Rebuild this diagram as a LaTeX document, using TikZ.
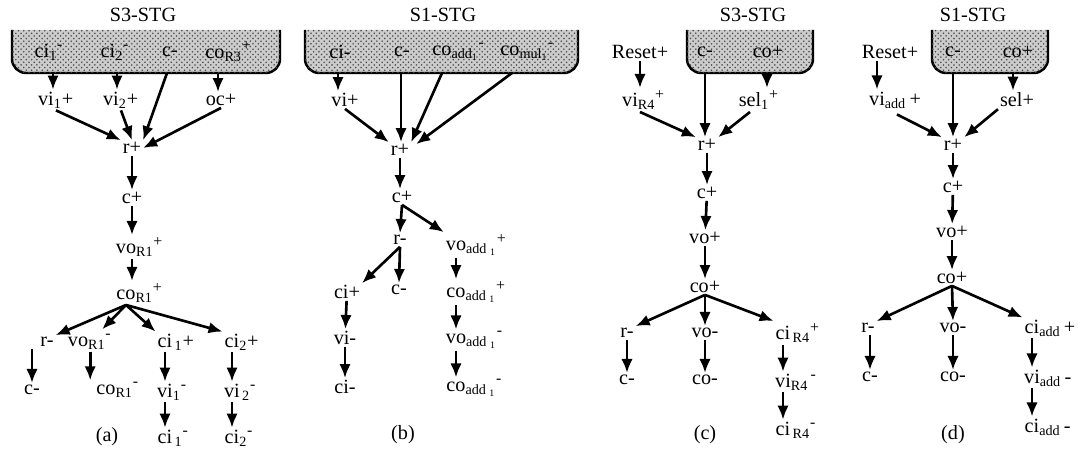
\documentclass[tikz,border=0pt]{standalone}
\usepackage{fontspec}
\setmainfont{Liberation Serif}
\usepackage{amsmath}
\usetikzlibrary{calc,arrows.meta,patterns}

% base text centred, indices hang to the right
\newcommand{\ev}[3]{#1\rlap{$_{\text{#2}}{}^{\mbox{\small #3}}$}}
\newcommand{\evb}[3]{#1\rlap{$_{\text{#2}}$#3}}

\tikzset{
  ev/.style={inner sep=1pt, font=\fontsize{11.5}{13}\selectfont},
  arr/.style={line width=1.5pt, -{Latex[length=8pt,width=6.5pt]}},
  stg/.style={line width=1.4pt, rounded corners=8pt, fill=gray!40,
    postaction={pattern=crosshatch dots, pattern color=gray!60!black}},
}

\begin{document}
\begin{tikzpicture}[x=0.02cm,y=-0.02cm]
    \useasboundingbox (0,0) rectangle (1089,455);

    % (a)
    \draw [stg] (12,30) -- (12,73) -- (280,73) -- (280,30);
    \node [ev] (aT) at (143,15) {S3-STG};
    \node [ev] (aci1) at (42,52) {\ev{ci}{1}{-}};
    \node [ev] (aci2) at (108,52) {\ev{ci}{2}{-}};
    \node [ev] (acm) at (170,52) {c-};
    \node [ev] (acoR) at (215,52) {\ev{co}{R3}{+}};
    \coordinate (aB1) at (53,73);
    \coordinate (aB2) at (117,73);
    \coordinate (aB3) at (167,73);
    \coordinate (aB4) at (218,73);

    \node [ev] (avi1) at (46,100) {\evb{vi}{1}{+}};
    \node [ev] (avi2) at (111,100) {\evb{vi}{2}{+}};
    \node [ev] (aoc) at (221,100) {oc+};
    \node [ev] (ar) at (132,148) {r+};
    \node [ev] (ac) at (132,198) {c+};
    \node [ev] (avo) at (126,247) {\ev{vo}{R1}{+}};
    \node [ev] (aco) at (126,293) {\ev{co}{R1}{+}};
    \node [ev] (arm) at (47,342) {r-};
    \node [ev] (avom) at (78,342) {\ev{vo}{R1}{-}};
    \node [ev] (aci1p) at (165,342) {\evb{ci}{\,1}{+}};
    \node [ev] (aci2p) at (232,342) {\evb{ci}{2}{+}};
    \node [ev] (acm2) at (32,390) {c-};
    \node [ev] (acom) at (106,390) {\ev{co}{R1}{-}};
    \node [ev] (avi1m) at (165,392) {\ev{vi}{1}{-}};
    \node [ev] (avi2m) at (232,392) {\ev{vi}{\,2}{-}};
    \node [ev] (acap) at (107,437) {(a)};
    \node [ev] (aci1m) at (165,438) {\ev{ci}{\,1}{-}};
    \node [ev] (aci2m) at (232,438) {\ev{ci}{2}{-}};

    \draw [arr] (aB1) -- (aB1 |- avi1.north);
    \draw [arr] (aB2) -- (aB2 |- avi2.north);
    \draw [arr] (aB3) -- (ar.north east);
    \draw [arr] (aB4) -- (aB4 |- aoc.north);
    \draw [arr] (avi1.south east) -- (ar.north west);
    \draw [arr] (avi2.south east) -- (ar.north);
    \draw [arr] (aoc.south) -- (ar.east);
    \draw [arr] (ar) -- (ac);
    \draw [arr] (ac.south) -- (ac.south |- avo.north);
    \draw [arr] (ac.south |- avo.south) -- (ac.south |- aco.north);
    \draw [arr] (aco.south) -- (arm.north east);
    \draw [arr] (aco.south) -- ($(avom.north east)+(12,-3)$);
    \draw [arr] (aco.south) -- (aci1p.north west);
    \draw [arr] (aco.south) -- (aci2p.north west);
    \draw [arr] (acm2 |- arm.south) -- (acm2.north);
    \draw [arr] (avom.south east) -- (avom.south east |- acom.north);
    \draw [arr] (aci1p) -- (avi1m);
    \draw [arr] (aci2p) -- (avi2m);
    \draw [arr] (avi1m) -- (aci1m);
    \draw [arr] (avi2m) -- (aci2m);

    % (b)
    \draw [stg] (305,30) -- (305,73) -- (578,73) -- (578,30);
    \node [ev] (bT) at (443,15) {S1-STG};
    \node [ev] (bci) at (340,52) {ci-};
    \node [ev] (bcm) at (402,52) {c-};
    \node [ev] (bcoa) at (442,52) {\ev{co}{add$_{\text{1}}$}{-}};
    \node [ev] (bcom) at (510,52) {\ev{co}{mul$_{\text{1}}$}{-}};
    \coordinate (bB1) at (338,73);
    \coordinate (bB2) at (401,73);
    \coordinate (bB3) at (442,73);
    \coordinate (bB4) at (512,73);

    \node [ev] (bvi) at (345,100) {vi+};
    \node [ev] (br) at (400,150) {r+};
    \node [ev] (bc) at (402,197) {c+};
    \node [ev] (brm) at (400,240) {r-};
    \node [ev] (bvo) at (456,245) {\ev{vo}{add $_{\text{1}}$}{+}};
    \node [ev] (bcip) at (347,292) {ci+};
    \node [ev] (bcm2) at (399,290) {c-};
    \node [ev] (bcop) at (456,292) {\ev{co}{add $_{\text{1}}$}{+}};
    \node [ev] (bvim) at (345,338) {vi-};
    \node [ev] (bvom) at (456,340) {\ev{vo}{add $_{\text{1}}$}{-}};
    \node [ev] (bcim) at (345,387) {ci-};
    \node [ev] (bcom2) at (456,388) {\ev{co}{add $_{\text{1}}$}{-}};
    \node [ev] (bcap) at (403,435) {(b)};

    \draw [arr] (bB1) -- (bB1 |- bvi.north);
    \draw [arr] (bB2) -- (bB2 |- br.north);
    \draw [arr] (bB3) -- (br.north east);
    \draw [arr] (bB4) -- ($(br.north east)+(5,2)$);
    \draw [arr] (bvi.south) -- (br.north west);
    \draw [arr] (br.south) -- (br.south |- bc.north);
    \draw [arr] (bc.south) -- (brm.north);
    \draw [arr] (bc.south) -- (bvo.north west);
    \draw [arr] (brm.south) -- (bcip.north east);
    \draw [arr] (brm.south) -- (bcm2.north);
    \draw [arr] (bvo) -- (bcop);
    \draw [arr] (bcip) -- (bvim);
    \draw [arr] (bcop) -- (bvom);
    \draw [arr] (bvim) -- (bcim);
    \draw [arr] (bvom) -- (bcom2);

    % (c)
    \draw [stg] (687,30) -- (687,73) -- (813,73) -- (813,30);
    \node [ev] (cT) at (753,15) {S3-STG};
    \node [ev] (cReset) at (640,52) {Reset+};
    \node [ev] (ccm) at (705,52) {c-};
    \node [ev] (ccop) at (768,52) {co+};
    \coordinate (cB1) at (705,73);
    \coordinate (cB2) at (767,73);

    \node [ev] (cvi) at (630,100) {\ev{vi}{R4}{+}};
    \node [ev] (csel) at (750,100) {\ev{sel}{1}{+}};
    \node [ev] (cr) at (707,145) {r+};
    \node [ev] (cc) at (707,193) {c+};
    \node [ev] (cvo) at (705,238) {vo+};
    \node [ev] (cco) at (705,287) {co+};
    \node [ev] (crm) at (627,333) {r-};
    \node [ev] (cvom) at (705,333) {vo-};
    \node [ev] (cci) at (783,333) {\ev{ci}{\,R4}{+}};
    \node [ev] (ccm2) at (627,380) {c-};
    \node [ev] (ccom) at (705,380) {co-};
    \node [ev] (cvim) at (783,382) {\ev{vi}{R4\,}{-}};
    \node [ev] (ccim) at (783,430) {\ev{ci}{\,R4}{-}};
    \node [ev] (ccap) at (705,435) {(c)};

    \draw [arr] (cReset.south) -- (cReset.south |- cvi.north);
    \draw [arr] (cB1) -- (cB1 |- cr.north);
    \draw [arr] (cB2) -- (cB2 |- csel.north);
    \draw [arr] (cvi.south east) -- (cr.north west);
    \draw [arr] (csel.south) -- (cr.north east);
    \draw [arr] (cr) -- (cc);
    \draw [arr] (cc) -- (cvo);
    \draw [arr] (cvo) -- (cco);
    \draw [arr] (cco.south) -- (crm.north east);
    \draw [arr] (cco.south) -- (cvom.north);
    \draw [arr] (cco.south) -- (cci.north west);
    \draw [arr] (crm) -- (ccm2);
    \draw [arr] (cvom) -- (ccom);
    \draw [arr] (cci) -- (cvim);
    \draw [arr] (cvim) -- (ccim);

    % (d)
    \draw [stg] (932,30) -- (932,73) -- (1048,73) -- (1048,30);
    \node [ev] (dT) at (973,15) {S1-STG};
    \node [ev] (dReset) at (890,52) {Reset+};
    \node [ev] (dcm) at (953,52) {c-};
    \node [ev] (dcop) at (1018,52) {co+};
    \coordinate (dB1) at (953,73);
    \coordinate (dB2) at (1013,73);

    \node [ev] (dvi) at (877,100) {\evb{vi}{add}{\,+}};
    \node [ev] (dsel) at (1017,100) {sel+};
    \node [ev] (dr) at (953,145) {r+};
    \node [ev] (dc) at (953,187) {c+};
    \node [ev] (dvo) at (952,232) {vo+};
    \node [ev] (dco) at (952,278) {co+};
    \node [ev] (drm) at (868,328) {r-};
    \node [ev] (dvom) at (953,328) {vo-};
    \node [ev] (dci) at (1032,328) {\evb{ci}{add}{\,+}};
    \node [ev] (dcm2) at (870,377) {c-};
    \node [ev] (dcom) at (953,377) {co-};
    \node [ev] (dvim) at (1032,378) {\evb{vi}{add}{\,-}};
    \node [ev] (dcim) at (1032,427) {\evb{ci}{add}{\,-}};
    \node [ev] (dcap) at (953,435) {(d)};

    \draw [arr] (dvi |- dReset.south) -- (dvi.north);
    \draw [arr] (dB1) -- (dB1 |- dr.north);
    \draw [arr] (dB2) -- (dB2 |- dsel.north);
    \draw [arr] ($(dvi.south east)+(10,4)$) -- (dr.north west);
    \draw [arr] (dsel.south west) -- (dr.north east);
    \draw [arr] (dr) -- (dc);
    \draw [arr] (dc) -- (dvo);
    \draw [arr] (dvo) -- (dco);
    \draw [arr] (dco.south) -- (drm.north east);
    \draw [arr] (dco.south) -- (dvom.north);
    \draw [arr] (dco.south) -- (dci.north west);
    \draw [arr] (dcm2 |- drm.south) -- (dcm2.north);
    \draw [arr] (dvom) -- (dcom);
    \draw [arr] (dci) -- (dvim);
    \draw [arr] (dvim) -- (dcim);
\end{tikzpicture}
\end{document}
